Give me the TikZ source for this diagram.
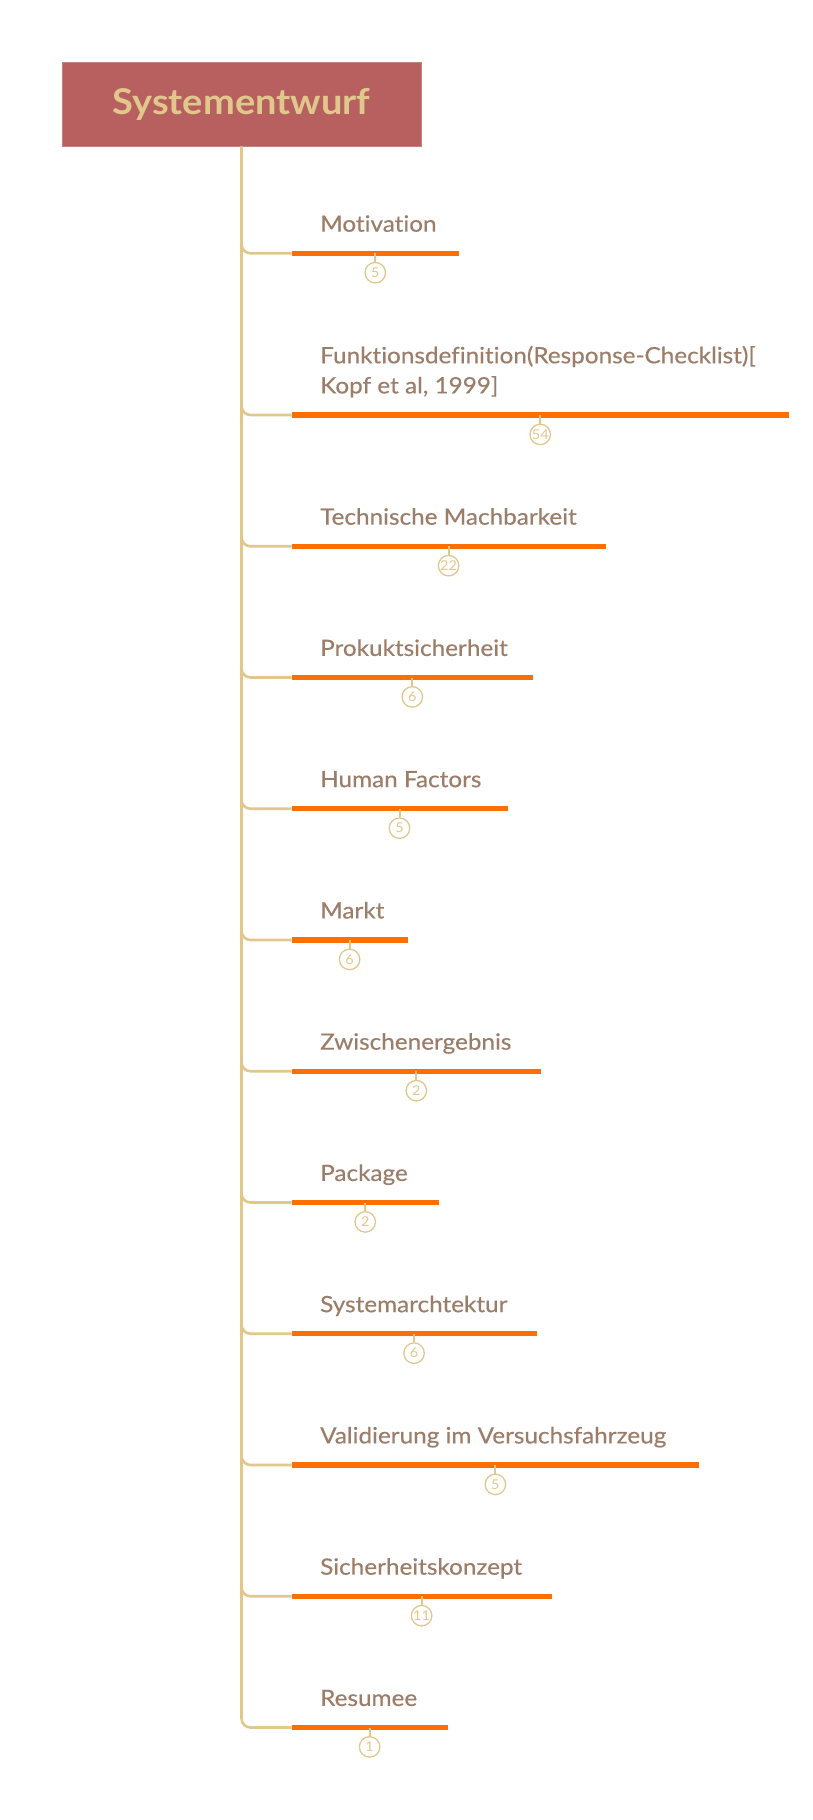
\documentclass[tikz,border=0pt]{standalone}
\usepackage{fontspec}
\setmainfont{Lato}[FakeStretch=1.07, Ligatures=NoCommon]
\newfontfamily\labelfont{Lato}[FakeStretch=1.08, FakeBold=0.35, Ligatures=NoCommon]
\usetikzlibrary{calc}
\definecolor{boxred}{HTML}{B86060}
\definecolor{gold}{HTML}{E0C88C}
\definecolor{barorange}{HTML}{FF6F00}
\definecolor{labelbrown}{HTML}{9B7D69}
\tikzset{
  titlebox/.style={fill=boxred, draw=boxred!80!white, line width=0.6, minimum width=359, minimum height=84, inner sep=0,
    text=gold, font=\bfseries\fontsize{35.5}{40}\selectfont},
  branch/.style={draw=gold, line width=2.6, rounded corners=9},
  bar/.style={draw=barorange, line width=5.2},
  itemlabel/.style={anchor=base west, inner sep=0, text=labelbrown, font=\labelfont\fontsize{22.5}{27}\selectfont},
  badge/.style={circle, draw=gold, line width=1.3, minimum size=20.5, inner sep=0, text=gold, font=\fontsize{13.5}{14}\selectfont},
  stem/.style={draw=gold, line width=2}
}
\begin{document}
\begin{tikzpicture}[x=1pt,y=-1pt]
\useasboundingbox (0,0) rectangle (813,1820);
\node[titlebox] (title) at (241.5,104) {Systementwurf};
% coordinates of bar starts and ends
\foreach \i/\y/\xe in {1/253.3/459, 2/415/789, 3/546.25/605.7, 4/677.5/533.1, 5/808.75/507.5, 6/940/407.7,
  7/1071.25/541.2, 8/1202.5/439, 9/1333.75/536.6, 10/1465/699.3, 11/1596.25/551.7, 12/1727.5/447.7}{
  \coordinate (s\i) at (291.5,\y);
  \coordinate (e\i) at (\xe,\y);
  \coordinate (m\i) at ($(s\i)!0.5!(e\i)$);
}
% trunk with last branch
\draw[branch] (title.south) |- (s12);
\foreach \i in {1,...,11}{
  \draw[branch] ($(s\i)+(-50,-20)$) |- (s\i);
}
% bars
\foreach \i in {1,...,12}{
  \draw[bar] (s\i) -- (e\i);
}
% labels
\node[itemlabel] (t1) at ($(s1)+(28.5,-21.6)$) {Motivation};
\node[itemlabel] (t2a) at ($(s2)+(28.5,-51.7)$) {Funktionsdefinition(Response-Checklist)[};
\node[itemlabel] (t2b) at ($(s2)+(28.5,-21.6)$) {Kopf et al, 1999]};
\node[itemlabel] (t3) at ($(s3)+(28.5,-21.6)$) {Technische Machbarkeit};
\node[itemlabel] (t4) at ($(s4)+(28.5,-21.6)$) {Prokuktsicherheit};
\node[itemlabel] (t5) at ($(s5)+(28.5,-21.6)$) {Human Factors};
\node[itemlabel] (t6) at ($(s6)+(28.5,-21.6)$) {Markt};
\node[itemlabel] (t7) at ($(s7)+(28.5,-21.6)$) {Zwischenergebnis};
\node[itemlabel] (t8) at ($(s8)+(28.5,-21.6)$) {Package};
\node[itemlabel] (t9) at ($(s9)+(28.5,-21.6)$) {Systemarchtektur};
\node[itemlabel] (t10) at ($(s10)+(28.5,-21.6)$) {Validierung im Versuchsfahrzeug};
\node[itemlabel] (t11) at ($(s11)+(28.5,-21.6)$) {Sicherheitskonzept};
\node[itemlabel] (t12) at ($(s12)+(28.5,-21.6)$) {Resumee};
% badges
\foreach \i/\n in {1/5, 2/54, 3/22, 4/6, 5/5, 6/6, 7/2, 8/2, 9/6, 10/5, 11/11, 12/1}{
  \node[badge] (b\i) at ($(m\i)+(0,19.4)$) {\n};
  \draw[stem] (b\i.north) -- (m\i);
}
\end{tikzpicture}
\end{document}
